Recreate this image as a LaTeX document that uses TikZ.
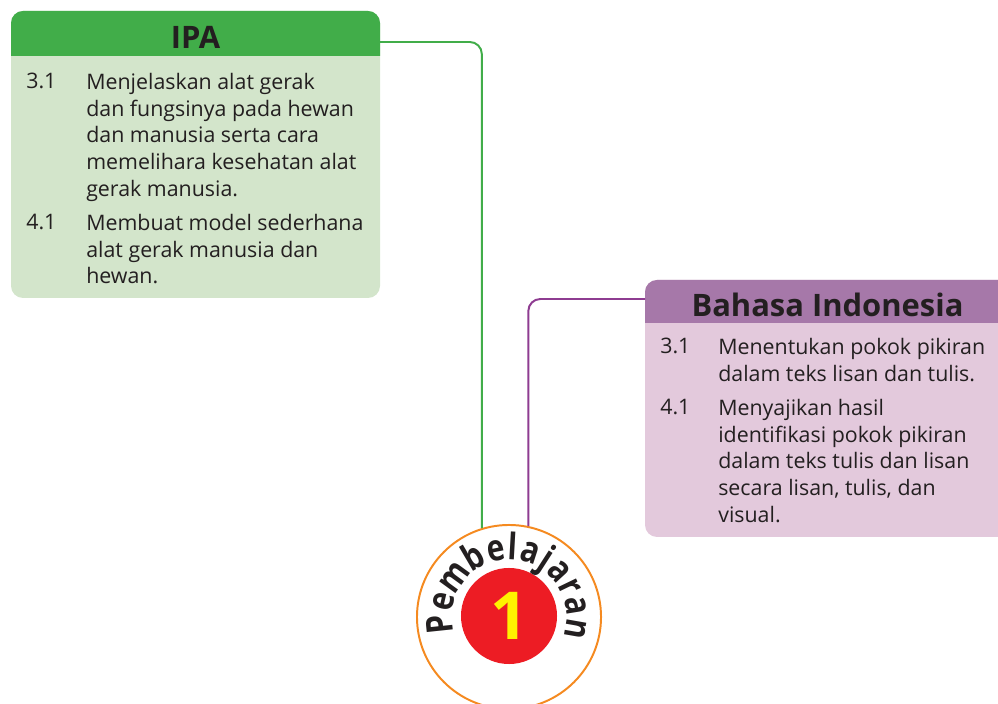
\documentclass[tikz,border=0pt]{standalone}
\usepackage{fontspec}
\setmainfont{Open Sans}
\usetikzlibrary{calc}
\definecolor{ipaGreen}{HTML}{41AD49}
\definecolor{ipaLight}{HTML}{D3E5CB}
\definecolor{bindoPurple}{HTML}{A678A9}
\definecolor{bindoLight}{HTML}{E3C9DC}
\definecolor{bindoLine}{HTML}{8E3C91}
\definecolor{ringOrange}{HTML}{F58A20}
\definecolor{badgeRed}{HTML}{ED1C24}
\definecolor{badgeYellow}{HTML}{FFF200}
\definecolor{inkDark}{HTML}{231F20}
\tikzset{
  title/.style={font=\bfseries\fontsize{22}{26}\selectfont, text=inkDark},
  item/.style={font=\fontsize{15.2}{19.1}\selectfont, text=inkDark, align=left, inner sep=0pt},
  link/.style={line width=1.4pt, rounded corners=0.3cm},
  letter/.style={font=\bfseries\fontsize{26}{28}\selectfont, text=inkDark, inner sep=0pt, anchor=base},
}

\begin{document}
\begin{tikzpicture}[x=0.025cm, y=0.025cm]
            \useasboundingbox (0,0) rectangle (998,703);
            % IPA box
            \fill[ipaLight, rounded corners=0.3cm] (11,405) rectangle (380,692);
            \fill[ipaGreen] (11,647) [rounded corners=0.3cm] -- (11,692) -- (380,692) [sharp corners] -- (380,647) -- cycle;
            \node[title] (ipahead) at (195.5,666) {IPA};
            \coordinate (ipaout) at (380,661);
            \node[item, anchor=base west] (ipanum1) at (26,614) {3.1};
            \node[item, anchor=north west] (ipatext1) at (86,630.3) {Menjelaskan alat gerak\\dan fungsinya pada hewan\\dan manusia serta cara\\memelihara kesehatan alat\\gerak manusia.};
            \node[item, anchor=base west] (ipanum2) at (26,473) {4.1};
            \node[item, anchor=north west] (ipatext2) at (86,489.3) {Membuat model sederhana\\alat gerak manusia dan\\hewan.};
            % Bahasa Indonesia box
            \fill[bindoLight, rounded corners=0.3cm] (645,166) rectangle (1010,423);
            \fill[bindoPurple] (645,380) [rounded corners=0.3cm] -- (645,423) -- (1010,423) [sharp corners] -- (1010,380) -- cycle;
            \node[title] (bindohead) at (827.5,398) {Bahasa Indonesia};
            \coordinate (bindoout) at (645,404);
            \node[item, anchor=base west] (bindonum1) at (660,349) {3.1};
            \node[item, anchor=north west] (bindotext1) at (718,365.3) {Menentukan pokok pikiran\\dalam teks lisan dan tulis.};
            \node[item, anchor=base west] (bindonum2) at (660,288) {4.1};
            \node[item, anchor=north west] (bindotext2) at (718,304.3) {Menyajikan hasil\\identifikasi pokok pikiran\\dalam teks tulis dan lisan\\secara lisan, tulis, dan\\visual.};
            % Pembelajaran badge
            \node[circle, draw=ringOrange, line width=1.4pt, fill=white, minimum size=4.6cm, inner sep=0pt] (pemb) at (509,86) {};
            \node[circle, fill=badgeRed, minimum size=2.4cm, inner sep=0pt, text=badgeYellow, font=\bfseries\fontsize{47}{50}\selectfont] (pembnum) at (509,87) {1};
            \foreach \ch/\a [count=\i] in {P/186,e/167,m/144,b/120.4,e/101.4,l/86.8,a/72,j/57.2,a/42.4,r/25.8,a/9.2,n/-9.9}
              \node[letter, rotate=\a-90, xscale=0.82] (pl\i) at ($(pemb.center)+(\a:1.43cm)$) {\ch};
            \draw[link, ipaGreen] (ipaout) -| (pemb.107);
            \draw[link, bindoLine] (bindoout) -| (pemb.78);
        \end{tikzpicture}
\end{document}
